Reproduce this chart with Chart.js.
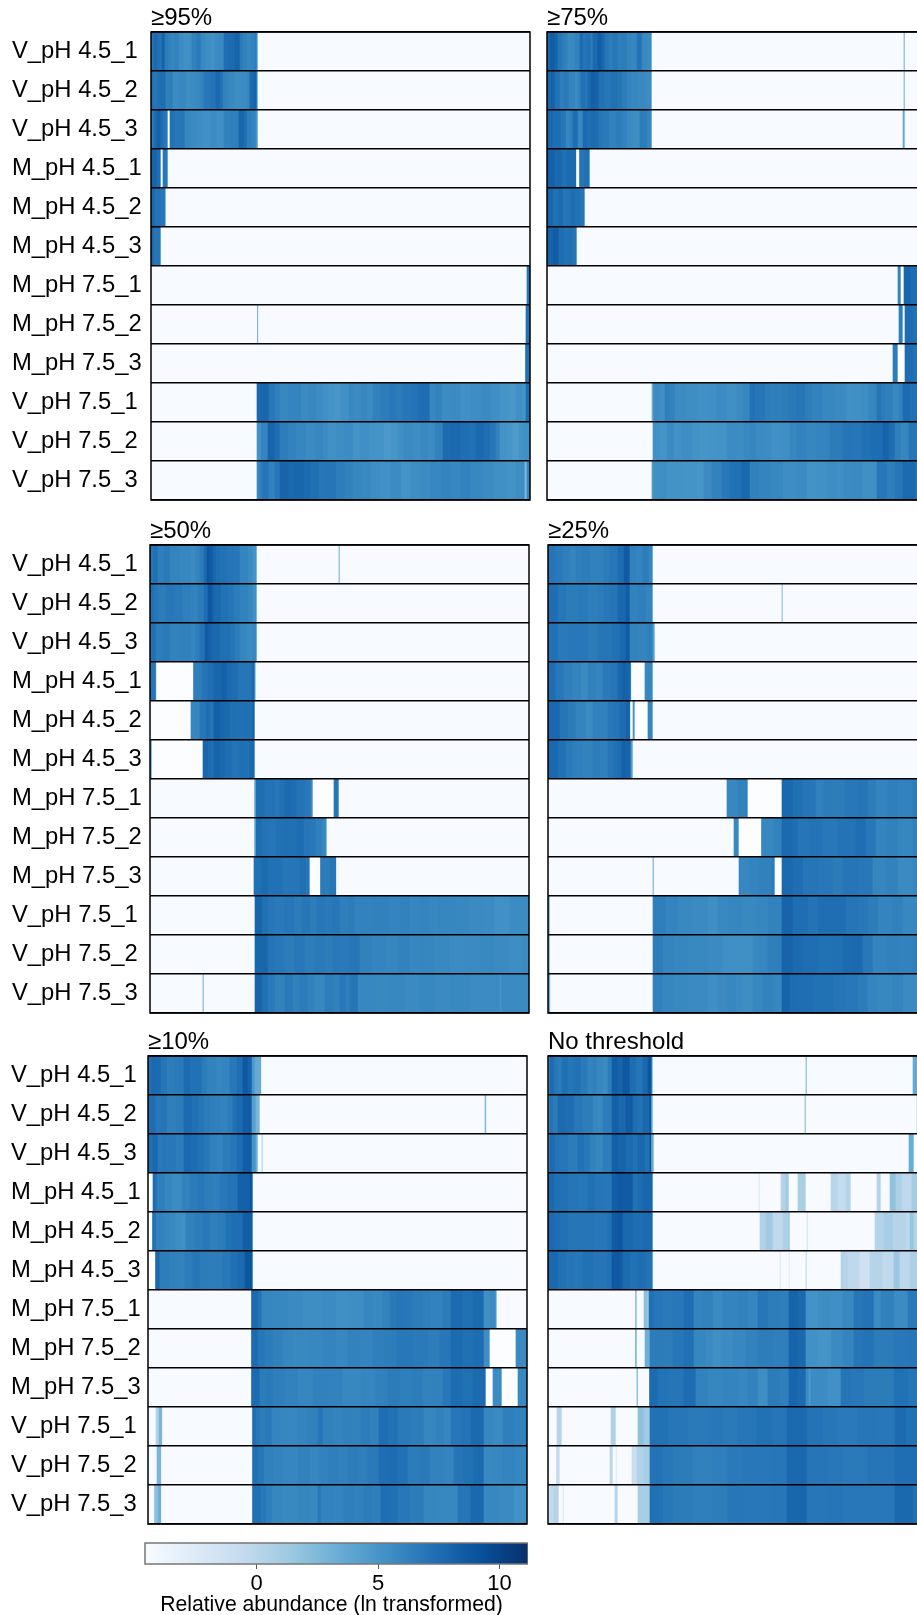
<!DOCTYPE html>
<html>
<head>
<meta charset="utf-8">
<title>Relative abundance heatmaps</title>
<script src="https://cdn.jsdelivr.net/npm/chart.js@4/dist/chart.umd.min.js"></script>
<style>
  html, body { margin: 0; padding: 0; background: #fff; overflow: hidden; width: 917px; height: 1615px; }
  canvas { position: absolute; display: block; }
</style>
</head>
<body>
<script>
// row names, top to bottom
const samples = ['V_pH 4.5_1', 'V_pH 4.5_2', 'V_pH 4.5_3', 'M_pH 4.5_1', 'M_pH 4.5_2', 'M_pH 4.5_3',
                 'M_pH 7.5_1', 'M_pH 7.5_2', 'M_pH 7.5_3', 'V_pH 7.5_1', 'V_pH 7.5_2', 'V_pH 7.5_3'];

const lo = -4.6;   // bottom of the colour scale
const na = null;   // blank cell
const columnCount = 379;

const rows95 = [
  [0,7,3,7.8,6,7.3,9,7,11,8,14,6.6,17,6.3,20,6,24,6.2,28,5.6,33,5.3,38,5.5,41,6.3,46,6.7,50,5.8,55,5.5,60,5.3,64,5.6,68,5.8,73,7.4,78,7.6,84,8,89,6.7,92,6.2,96,5.9,100,6.1,104,6.5,106,4.5,107,lo,379],
  [0,7.4,2,7,7,7.3,10,7.4,15,6.2,18,6.5,22,5.7,28,5.9,35,5.5,40,5.7,45,5.8,50,6.2,53,6.8,60,7.1,65,7.7,69,7.2,72,6.3,75,6.1,78,5.8,84,5.5,90,5.7,96,6,99,7.6,103,8,106,4.5,107,lo,379],
  [0,6.6,3,7.6,6,8.2,10,7.2,13,6.8,16,6.6,17,na,19,7.2,24,6.8,30,6.9,34,5.9,40,5.7,46,5.5,52,5.3,60,5.6,66,5.4,73,6.2,80,6.4,88,7.9,93,7.4,96,6.4,101,6.1,105,5,107,lo,379],
  [0,8,6,7.4,10,na,12,6.8,17,lo,379],
  [0,7.8,4,7.1,10,6.8,14.5,4.5,15,lo,379],
  [0,7.8,3,7,10,lo,379],
  [0,lo,376,7,379],
  [0,lo,106.5,3.6,107.5,lo,375,7.2,379],
  [0,lo,374.5,7.3,379],
  [0,lo,106,7.8,112,7.9,118,6.8,124,6.4,129,5.9,138,6.1,150,5.7,158,5.9,165,5.6,172,5.4,177,5.1,184,4.9,190,5.3,198,5.8,204,5.6,210,5.9,216,5.7,222,6.3,230,6.5,239,6.8,246,6.6,252,6.9,260,7.1,267,7.4,279,5.9,285,6.2,291,5.6,300,5.7,310,5.3,320,5.5,330,5.7,340,5.4,349,5.1,358,4.9,365,5.4,372,5,375,7.5,379],
  [0,lo,106,5.2,110,6.1,117,8,124,7.4,129,6.5,137,6.2,145,6,155,5.7,165,5.9,172,5.6,177,5.3,185,5.5,194,5.6,202,5.2,210,5.4,218,5.2,225,5.1,233,4.8,240,5,247,5.4,253,5.7,262,5.5,270,5.8,277,5.6,284,6.2,292,7.6,300,7.8,310,7.4,318,7.2,325,7.7,333,7.4,339,6.9,345,6.2,349,5.1,356,5,362,4.7,368,5.2,372,5.4,379],
  [0,lo,106,5.8,109,6.4,112,7,118,6.2,124,6.8,129,8,137,7.8,145,7.9,153,7.6,160,7.3,168,6.9,175,7,185,6.5,194,6.2,202,5.9,210,5.8,220,5.5,229,5.3,240,5.6,250,5.2,260,5.5,270,5.6,280,5.9,291,6.1,300,5.9,310,6.2,320,5.9,332,5.6,343,5.4,355,5.2,365,5.5,374,2.5,376,6,379]
];

const rows75 = [
  [0,7.6,3,8.4,8,8,11,7,15,6.5,18,6.2,21,5.7,24,5.8,28,6.2,33,7.6,36,7,40,7.2,44,6.5,46,7.7,51,8.4,55,7.8,58,7,62,6.5,66,6.9,71,6.4,75,6.5,80,6.1,85,6,90,7.1,95,5.8,100,5.6,105,lo,357,3.6,358,lo,379],
  [0,7.8,4,8.1,8,7.2,13,6.4,17,6.7,22,6.1,28,5.6,31,6.2,34,7.2,38,7,41,7.6,44,8.3,48,8.1,52,7.2,58,6.9,64,7.2,70,7,75,6.5,80,6.1,85,5.9,90,5.8,98,5.6,105,lo,357,3.6,358,lo,379],
  [0,7.8,6,7.4,10,7.4,14,7,19,6,23,6.4,26,7.5,31,5.8,36,7.6,41,7.2,44,7.6,48,7.4,52,6.9,55,6.7,62,6.3,70,6.5,75,6.2,80,5.7,86,5.5,93,6.5,100,6,105,lo,356,3.8,358,lo,379],
  [0,8.2,8,7.8,15,7.3,20,7.6,24,7.6,29.5,na,32.5,7,38,7.2,43,lo,379],
  [0,7.9,6,7.2,12,7.6,16,7,20,7.1,24,7.5,28,7.2,33,6.9,38,lo,379],
  [0,8,6,8.4,12,7.4,17,7.1,22,7.3,26,7,30,lo,379],
  [0,lo,351,6.3,354,na,357,7.9,364,7.4,372,7.7,379],
  [0,lo,352,6.4,356,na,358,7.5,366,7.2,379],
  [0,lo,346,6.5,351,na,358,7.5,366,7.2,379],
  [0,lo,105,3.4,106.5,5.6,112,5.4,118,6.4,123,6.2,128,5.6,140,5.5,150,5.3,160,5.4,170,5.6,180,5.4,190,5.7,196,6,203,7.2,208,7,212,6.9,218,6.5,223,6.4,235,6.5,242,6.7,250,6.9,258,6.5,265,6.2,276,5.9,287,5.7,300,5.3,308,5.4,315,5.5,322,6,330,7,334,6.6,338,6.4,346,5.8,352,6.2,356,7.6,363,7.2,370,8,379],
  [0,lo,106,5.3,113,5.1,120,5.7,127,5.3,135,5.5,145,5.2,153,5,162,5.1,170,5.2,180,5.6,190,5.5,197,5.8,203,6,209,5.7,215,5.6,225,5.3,235,5.4,243,5.9,250,6.2,260,6,270,6.1,283,6.6,296,7,305,6.9,315,7.2,325,7.5,336,8,342,7.5,348,6.4,354,6,362,7,370,6.6,379],
  [0,lo,105,4.8,107,5.4,113,5.5,120,5.2,135,5.1,150,5,157,5.6,165,6.2,175,6.8,183,7.2,195,7.8,203,6.3,212,6.1,223,5.9,236,5.5,250,5.6,260,5.2,270,5.3,280,5.5,290,5.4,297,5.6,303,5.7,316,5.4,330,6.8,340,6.4,348,6.9,356,7.6,368,7.2,379]
];

const rows50 = [
  [0,7,4,7.3,8,6.4,14,6.7,20,6.1,30,5.9,41,5.7,46,6.1,50,6.6,54,7.6,57,8.8,60,8.5,63,7.9,66,7.4,70,7.2,77,7,84,6.8,90,6.1,98,5.6,103,5.1,107,lo,189,3.4,190,lo,379],
  [0,7.2,4,6.9,8,6.5,16,6.8,25,6.7,33,6.4,41,6.2,48,6.6,54,7.4,58,8.8,62,8.2,64,7.7,71,7.2,78,7,84,6.6,90,6.2,98,5.9,103,5.3,107,lo,379],
  [0,7.3,6,6.5,13,6.7,20,6.2,30,6.3,41,6.1,46,6.5,50,7.1,55,8.6,59,8.1,62,7.8,70,7.3,80,7,85,6.5,90,6,97,5.7,103,5.9,107,lo,379],
  [0,7,6,4.5,6.5,na,43.5,6.4,52,7,58,7.4,64,7.9,72,8.2,77,7.6,82,7.4,88,7,95,7,102,7.8,105,2.5,106,lo,379],
  [0,na,41,6,50,6.9,56,7.4,60,7,64,8.3,70,7.9,75,7.7,80,7.3,85,7.2,95,7.3,103,8.2,105,lo,379],
  [0,4.5,2,na,53,7.9,58,7.5,62,7.3,64,8,70,7.8,75,7.4,82,7.1,90,7.3,96,7.2,100,7.8,105,lo,379],
  [0,lo,104.5,3,106,7.4,115,7.1,125,6.9,130,7.2,135,7.6,141,7.5,147,7.1,155,6.8,161,5.6,163,na,184,7,189,lo,379],
  [0,lo,104.5,3,106,7.4,112,7.1,118,7,127,7.2,135,7.3,147,7.5,154,7,160,6.8,166,6.4,172,6,176,4.6,177,lo,379],
  [0,lo,104,7.2,112,7.6,118,7.2,125,7.2,133,6.9,140,7,150,7.3,156,6.9,160,na,170.5,6.6,180,6.9,186.5,lo,379],
  [0,lo,105,8,112,7.3,118,6.9,125,6.7,135,6.9,145,6.6,152,6.9,160,6.5,167,6.9,175,6.7,183,6.9,190,6.4,198,6.6,205,6.2,225,6.3,240,6.1,250,6.2,260,6,270,6.1,280,5.9,290,6,305,5.9,320,5.7,335,5.6,345,5.3,360,5.6,379],
  [0,lo,105,7.9,118,7,125,6.8,135,6.6,145,6.8,155,6.5,165,6.7,175,6.5,183,6.8,190,6.7,200,6.9,210,6.3,222,6.1,235,6,248,6.2,260,5.9,272,6,285,5.8,300,5.6,315,5.7,330,5.8,345,5.7,360,5.5,372,5.6,379],
  [0,lo,53,3.4,54,lo,105,8,112,7.3,118,6.7,125,6.2,135,6.7,143,6.3,150,6.6,158,6.2,165,5.9,175,6.5,183,6.3,190,6.8,196,6.4,200,7,208,5.9,225,5.8,240,5.9,255,5.7,270,5.9,285,5.7,300,5.8,320,5.6,335,5.6,350,5.1,352,5.7,379]
];

const rows25 = [
  [0,7,7,6.7,15,6.4,22,6.1,28,6.4,35,6.5,42,6.3,50,6.3,56,6.6,62,6.9,70,7.5,76,8.6,82,6.3,88,6.1,95,6.5,101,6,105,lo,379],
  [0,7.4,10,6.9,18,6.6,30,6.7,40,6.4,50,6.6,56,6.8,62,7,70,7.8,78,8.5,82,6.2,90,6.4,98,6.1,105,lo,234,2.5,235,lo,379],
  [0,7.2,10,6.7,20,6.8,30,6.8,40,6.6,50,7,58,7,65,7.2,72,7.8,78,8.6,82,6.2,90,6.1,100,6.4,105,4.2,107,lo,379],
  [0,7.4,8,6.8,16,6.4,25,6.1,33,5.7,40,6.3,48,6.1,55,6.7,63,7,70,7.8,75,8.3,78,8,83,3,83.5,na,97,5.9,105,lo,379],
  [0,7.8,12,7,20,6.6,28,6.1,38,5.7,45,6.3,52,6.2,60,6.8,66,7,72,7.5,78,8,82.5,na,85,5,87,na,100,6,105,lo,379],
  [0,7.8,10,7.2,18,6.7,25,6.4,35,6.2,45,6.5,52,6.3,60,6.9,66,7.2,70,7.5,74,8.2,78,8,83,4.5,85,lo,379],
  [0,lo,179,5.9,190,6.2,200,na,234,7.8,245,7.3,255,7,262,6.8,268,6.3,276,6.6,285,6.5,297,6.8,310,7,320,6.5,328,6.1,340,6.4,350,6.2,365,6.5,379],
  [0,lo,186,5.8,191,na,213.5,5.9,226,6.2,234,7.7,245,7.4,250,7,262,7.1,275,6.8,290,7.1,308,7.4,318,6.8,328,6.1,340,6.3,350,6,365,6.3,379],
  [0,lo,105,3.8,106,lo,191,5.9,202,6.1,212,6.3,224,6.6,227,na,234,7.7,245,7.4,255,7,270,6.8,285,6.6,295,7,310,6.8,325,6,338,6.2,350,5.7,365,6,379],
  [0,3.6,2,lo,105,6.4,118,6.1,130,5.8,145,5.7,160,5.4,170,5.8,180,6,195,5.8,208,6,220,6.2,234,8,245,7.4,260,7.1,270,7.4,285,7.4,298,7,310,6.8,320,6.5,330,6.1,345,6.3,355,5.9,379],
  [0,3.6,2,lo,105,6.5,115,6.1,125,6,140,5.8,160,5.7,175,5.4,190,5.4,205,5.8,212,6,220,6.4,234,8,245,7.6,255,7.4,270,7.2,285,7.3,295,7.6,305,7.7,315,6.8,325,6.1,340,6.3,350,6.2,365,6.4,379],
  [0,3.4,2.5,lo,105,6.3,115,6,125,5.8,140,5.7,160,5.4,170,5.7,180,5.9,188,5.6,195,5.5,205,5.9,215,6.2,225,6,234,8,242,7.5,250,7.4,265,7.2,285,7,298,6.8,310,6.6,320,6.1,330,5.9,345,6.1,355,5.7,379]
];

const rows10 = [
  [0,7.2,4,7.7,8,7.6,13,7,19,6.5,27,6.7,36,7.6,42,7.2,48,7.2,54,6.6,59,6.2,68,6,75,6.1,82,6.8,89,7.4,95,8.7,100,8.1,103,8.2,104,4.8,107,3.5,113.5,lo,379],
  [0,7.4,8,6.8,13,7,19,6.4,28,6.6,36,7.6,44,7.3,50,7,56,6.6,62,6.4,72,6.2,80,6.6,85,7.2,89,7.6,95,8.5,104,4.2,108,2.8,112,lo,337,2.6,338.5,lo,379],
  [0,7.3,5,7.8,10,6.7,15,6.9,19,6.8,28,6.5,36,7.8,43,7.5,50,7.2,56,6.8,62,6.3,70,6.1,75,6.6,83,6.9,89,7.5,95,8.4,104,5,108,3.2,110,lo,114,0.8,115,lo,379],
  [0,na,5,7.4,9,6.4,17,6,24,5.7,28,5.6,34,6.2,42,6.6,50,6.8,57,6.5,65,6.4,72,6.8,80,7.1,90,8.2,102,8.9,105,lo,379],
  [0,na,4.5,7.2,8,6.2,15,6,22,5.8,28,5.5,34,5.3,38,6.3,47,6.5,55,6.8,62,6.4,70,6.6,78,7.2,85,7.4,95,8.4,105,lo,379],
  [0,na,7.5,7.6,12,6.5,21,6.3,30,6.2,37,6.6,45,6.9,52,6.6,60,6.5,68,6.6,75,6.8,83,7.3,90,7.6,97,8.8,105,lo,379],
  [0,lo,103.5,7.7,110,7,114,6,125,5.9,140,5.7,155,5.5,175,5.6,188,5.4,200,5.5,216,6,225,5.8,235,6.2,242,6.7,249,6.9,257,6.8,265,6.6,275,6.4,283,6.2,295,6.6,303,7.6,315,7.3,325,7.6,336,5.4,342,5.6,348,3.5,349,lo,379],
  [0,lo,103.5,7.6,110,6.9,117,6.6,125,6.3,135,6,145,5.8,160,5.9,175,6.1,188,5.9,200,6.2,212,6.1,225,6.4,237,6.5,249,6.8,265,6.7,280,6.5,292,6.9,303,7.6,315,7.3,325,7.5,336,5.5,342,na,368,5.7,379],
  [0,lo,103.5,7.6,112,6.6,118,6.7,125,6.4,137,6.2,150,6,165,6.3,180,6.2,195,5.9,215,6,228,6.3,240,6.6,252,6.4,265,6.5,275,6.2,285,6.3,295,6.8,303,7.5,315,7.2,325,7.6,338,na,345,5.6,354,na,370,5.8,379],
  [0,lo,8,0.4,11,2.8,14.5,lo,104.5,7.4,108,6.9,112,6.5,118,6.7,124,6.1,132,6,140,5.9,150,6.1,160,6.3,170,6.9,175,6.3,186,6.1,196,6.3,205,6.2,213,6.5,222,6.3,231,7.4,240,7.1,246,7.3,250,6.7,262,6.5,276,6,288,6.2,296,6,303,6.9,314,7.1,323,7.7,336,6,345,5.7,355,6.4,367,6.2,379],
  [0,lo,9,2.8,13.5,lo,104.5,7.3,110,6.9,116,6.3,125,6.1,135,6,150,6.2,162,5.9,172,6.2,180,6.4,190,6.3,200,6.5,210,6.4,220,6.7,231,7.4,240,7.5,250,7.2,260,6.6,272,6.7,282,6.2,296,6.1,306,7,316,7.2,326,7.6,336,5.8,345,5.9,355,6.1,367,6,379],
  [0,lo,6.5,2,10,3.2,13.5,lo,104.5,7.3,113,6.8,118,6.4,124,6,135,5.8,150,6,162,5.8,170,6.8,173,6.2,186,6.1,196,6.4,206,6.3,216,6.6,224,6.4,233,7.4,240,7.3,250,6.8,262,6.6,276,6,290,5.9,310,7,323,7.8,336,5.9,350,5.7,366,5.3,379]
];

const rowsAll = [
  [0,3,1.5,7.6,6,6.9,10,6.6,14,7.3,20,7,26,7.2,33,6.7,40,6.1,45,6.3,49,5.9,55,5.7,60,6.6,64,8.4,70,8,75,8.7,82,7.4,88,7,95,7.8,100,8.9,104,3,105,lo,258,3.2,259,lo,365,3.6,379],
  [0,3,1.5,7.2,5,6.6,10,7.6,18,7.4,26,6.8,35,6.5,45,6,50,5.8,55,6.5,64,8.2,71,7.8,78,8.5,85,7.4,90,7.1,95,7.8,102,9,103.5,3.6,105,lo,257,2.8,258,lo,369,1,379],
  [0,3,1.5,7.6,7,7.1,12,6.9,20,6.6,30,7.2,36,6.8,42,6.2,48,5.9,55,6.5,64,8.3,70,8,78,7.6,85,7.2,90,7.8,97,7.2,102,9.4,103.5,3.5,106,lo,361,3.4,366,lo,379],
  [0,7.8,6,7.3,10,7.2,20,7,30,6.9,40,7.3,47,7,55,6.9,64,8.4,70,8.7,75,8.6,85,7.2,90,7.5,95,7.9,105,lo,211,-1.8,212,lo,233,0.4,238,1.2,241,lo,250,0.7,258,lo,283,0,290,-0.6,298,0.2,303,lo,329,0.3,333,lo,342,1.8,348,0.6,354,-0.2,364,1,379],
  [0,7.7,7,7.4,12,7.2,20,7,30,7,45,6.9,60,7.2,64,8.6,70,8.8,75,7.8,85,7.4,95,7.6,105,lo,212,0.4,218,1.2,225,-0.4,235,0.6,241,1.8,242,lo,259,-1.2,260,lo,327,0.2,336,0.8,345,0.2,358,-0.2,362,1.6,366,0.2,379],
  [0,7.8,10,7.2,18,7,25,6.9,35,7.2,45,7,60,7.2,64,8.7,72,8.4,75,7.6,82,7.2,90,7.4,98,7.1,105,lo,232,-1.8,233,lo,241,-2.8,242,lo,258,0,259,lo,293,0.2,300,-0.3,312,-1.3,322,0.2,335,-0.4,346,1.4,352,-0.2,362,0.6,379],
  [0,lo,87.5,2.4,89,lo,96,2,100,0.5,101,7.3,106,6.9,115,6.7,125,6.8,136,7.4,146,6.1,155,6.2,165,5.7,175,6.1,190,6.2,200,6,210,6.9,220,6.5,232,6.4,241,8,250,7.7,258,5.2,270,5.5,283,5.4,295,5.8,306,6.9,316,7.1,326,5.6,333,6.3,346,5.6,360,6.7,379],
  [0,lo,87.5,3.2,89,lo,97,3.2,102,6.6,115,6.5,125,6.9,136,7.2,146,6,158,5.7,165,5.4,173,5.6,185,5.9,198,6.2,210,6.5,225,6.4,241,8,250,7.8,258,5.3,270,5.1,283,5.7,295,6.1,306,7,316,7.1,326,6.6,346,6.8,360,6.9,379],
  [0,lo,89,4,90,lo,100,na,101.5,7.6,110,7.1,120,7,136,7.5,148,6.2,160,6,175,6.1,190,5.9,200,6.2,210,5.5,220,6.6,232,6.4,241,7.9,250,7.6,258,5.6,261,4.8,263,5.6,280,5.3,293,7,303,6.8,316,6.6,326,6.6,346,7.2,360,7,379],
  [0,lo,9,0.2,14,lo,63,0.6,68,lo,90,2,96,1.2,102,7.2,120,6.9,140,6.7,160,6.8,175,6.7,190,6.9,209,7.2,225,7,239,7.7,259,7.1,275,6.9,290,6.7,310,6.9,330,6.8,347,7.6,358,7.2,379],
  [0,lo,8.5,-0.6,12,lo,62,-0.1,65,lo,68,-2,69,lo,84,-1,89,0.4,96,0.9,102,7.1,115,6.8,125,6.6,145,6.3,165,6.4,180,6.7,195,6.8,225,6.9,239,7.8,259,7,280,6.8,295,6.7,320,7,347,7.4,379],
  [0,lo,1.5,-0.4,6,0.2,11,lo,15,-2,16,lo,67,0.2,70,lo,90,0.9,102,7.2,115,6.8,125,6.6,145,6.4,165,6.5,180,6.9,195,6.8,225,6.9,239,7.9,259,6.9,280,7,295,6.8,320,6.8,347,7.8,365,7.3,379]
];

// colour bar
const scaleMin = -4.6;
const scaleMax = 11.17;
const scaleTicks = [0, 5, 10];
const scaleColors = ['#f7fbff', '#deebf7', '#c6dbef', '#9ecae1', '#6baed6', '#4292c6', '#2171b5', '#08519c', '#08306b'];

Chart.defaults.font.family = '"Liberation Sans", Arial, sans-serif';
Chart.defaults.color = '#000';
Chart.defaults.animation = false;
Chart.defaults.plugins.legend.display = false;
Chart.defaults.plugins.tooltip.enabled = false;

function hexToRgb(hex) {
    return [1, 3, 5].map(i => parseInt(hex.substr(i, 2), 16));
}

function cellColor(v) {
    if (v === null) return '#fbfdff';
    const pos = (v - scaleMin) / (scaleMax - scaleMin) * (scaleColors.length - 1);
    const i = Math.max(0, Math.min(scaleColors.length - 2, Math.floor(pos)));
    const a = hexToRgb(scaleColors[i]);
    const b = hexToRgb(scaleColors[i + 1]);
    const t = pos - i;
    return 'rgb(' + a.map((c, k) => Math.round(c + (b[k] - c) * t)).join(',') + ')';
}

// turn the flat rows into floating bars
function toCells(rows) {
    const cells = [];
    rows.forEach((flat, r) => {
        for (let i = 0; i + 2 < flat.length; i += 2) {
            cells.push({ y: samples[r], x: [flat[i], flat[i + 2]], v: flat[i + 1] });
        }
    });
    return cells;
}

const frame = {
    id: 'frame',
    afterDraw(chart, args, opts) {
        const a = chart.chartArea;
        const ctx = chart.ctx;
        ctx.save();
        ctx.strokeStyle = opts.color;
        ctx.lineWidth = 1.5;
        ctx.strokeRect(a.left, a.top, a.right - a.left, a.bottom - a.top);
        ctx.restore();
    }
};

function addCanvas(left, top, width, height) {
    const c = document.createElement('canvas');
    c.width = width;
    c.height = height;
    c.style.left = left + 'px';
    c.style.top = top + 'px';
    c.style.width = width + 'px';
    c.style.height = height + 'px';
    document.body.appendChild(c);
    return c;
}

function drawPanel(title, rows, left, top, labelLeft) {
    const hasLabels = labelLeft !== null;
    const canvasLeft = hasLabels ? 0 : left - 2;
    const padLeft = hasLabels ? labelLeft : 2;
    const titleH = 26;
    const canvas = addCanvas(canvasLeft, top - titleH, left - canvasLeft + columnCount + 2, titleH + 468 + 2);

    new Chart(canvas, {
        type: 'bar',
        plugins: [frame],
        data: {
            labels: samples,
            datasets: [{
                data: toCells(rows),
                backgroundColor: ctx => cellColor(ctx.raw.v),
                borderWidth: 0,
                barPercentage: 1,
                categoryPercentage: 1
            }]
        },
        options: {
            indexAxis: 'y',
            responsive: false,
            layout: { autoPadding: false, padding: { left: padLeft, right: 2, bottom: 2, top: 0 } },
            plugins: {
                frame: { color: '#000' },
                title: {
                    display: true,
                    text: title,
                    align: 'start',
                    fullSize: false,
                    color: '#000',
                    font: { size: 24, weight: 'normal', lineHeight: 1 },
                    padding: { top: 0, bottom: 2 }
                }
            },
            scales: {
                x: { type: 'linear', min: 0, max: columnCount, display: false },
                y: {
                    grid: { color: '#000', lineWidth: 1.5, drawTicks: false, z: 1 },
                    border: { display: false },
                    ticks: {
                        display: hasLabels,
                        autoSkip: false,
                        crossAlign: 'far',
                        padding: 0,
                        color: '#000',
                        font: { size: 23.8 }
                    },
                    afterFit: scale => {
                        scale.width = left - canvasLeft - padLeft;
                        // labels of the outer rows must not shrink the plot
                        scale.paddingTop = 0;
                        scale.paddingBottom = 0;
                    }
                }
            }
        }
    });
}

function drawColorBar(barLeft, top, barWidth) {
    // empty y axis on the left, so the centred title sits a bit left of the bar's middle
    const extraLeft = 10;
    const canvas = addCanvas(barLeft - extraLeft, top, barWidth + extraLeft, 1615 - top);
    new Chart(canvas, {
        type: 'bar',
        plugins: [frame],
        data: {
            labels: ['scale'],
            datasets: [{
                data: [{ y: 'scale', x: [scaleMin, scaleMax] }],
                backgroundColor: ctx => {
                    const a = ctx.chart.chartArea;
                    if (!a) return scaleColors[0];
                    const g = ctx.chart.ctx.createLinearGradient(a.left, 0, a.right, 0);
                    scaleColors.forEach((c, i) => g.addColorStop(i / (scaleColors.length - 1), c));
                    return g;
                },
                borderWidth: 0,
                barPercentage: 1,
                categoryPercentage: 1
            }]
        },
        options: {
            indexAxis: 'y',
            responsive: false,
            layout: { autoPadding: false, padding: { top: 1, left: 0, right: 0, bottom: 0 } },
            plugins: {
                frame: { color: '#777' },
                title: {
                    display: true,
                    position: 'bottom',
                    text: 'Relative abundance (ln transformed)',
                    color: '#000',
                    font: { size: 21.2, weight: 'normal', lineHeight: 0.943 },
                    padding: 0
                }
            },
            scales: {
                y: {
                    ticks: { display: false },
                    grid: { display: false },
                    border: { display: false },
                    afterFit: scale => { scale.width = extraLeft; }
                },
                x: {
                    type: 'linear',
                    min: scaleMin,
                    max: scaleMax,
                    afterBuildTicks: scale => { scale.ticks = scaleTicks.map(v => ({ value: v })); },
                    afterFit: scale => { scale.height = 31; },
                    grid: { drawOnChartArea: false, drawTicks: true, tickLength: 5, color: '#555', lineWidth: 1 },
                    border: { display: false },
                    ticks: { padding: 2, color: '#000', font: { size: 22 }, maxRotation: 0, autoSkip: false }
                }
            }
        }
    });
}

drawPanel('≥95%', rows95, 151, 32, 12);
drawPanel('≥75%', rows75, 547, 32, null);
drawPanel('≥50%', rows50, 150, 545, 12);
drawPanel('≥25%', rows25, 548, 545, null);
drawPanel('≥10%', rows10, 148, 1056, 11);
drawPanel('No threshold', rowsAll, 548, 1056, null);
drawColorBar(145, 1542, 383);
</script>
</body>
</html>
